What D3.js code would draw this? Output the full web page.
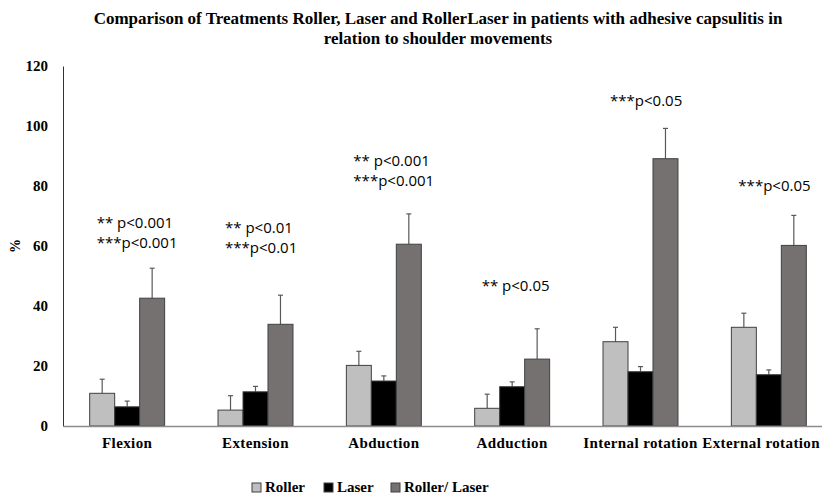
<!DOCTYPE html>
<html>
<head>
<meta charset="utf-8">
<script src="https://cdn.jsdelivr.net/npm/d3@7.9.0/dist/d3.min.js"></script>
<style>
  body { margin: 0; background: #fff; }
  svg { display: block; }
  .serif { font-family: "Liberation Serif", "DejaVu Serif", "Times New Roman", Times, serif; font-weight: 700; }
  .note { font-family: "Open Sans", sans-serif; }
</style>
</head>
<body>
<div id="chart"></div>
<script>
// data
const movements = ['Flexion', 'Extension', 'Abduction', 'Adduction', 'Internal rotation', 'External rotation'];
const treatments = ['Roller', 'Laser', 'Roller/ Laser'];

const roller      = [10.9, 5.3, 20.2, 5.9, 28.1, 32.9];
const laser       = [6.4, 11.4, 15.0, 13.1, 18.1, 17.1];
const rollerLaser = [42.6, 33.9, 60.6, 22.3, 89.1, 60.2];

const rollerErr      = [4.7, 4.8, 4.7, 4.7, 4.8, 4.7];
const laserErr       = [1.9, 1.8, 1.7, 1.6, 1.7, 1.6];
const rollerLaserErr = [10.0, 9.7, 10.1, 10.1, 10.1, 10.0];

const yTicks = [0, 20, 40, 60, 80, 100, 120];

// p-value notes above each group
const notes = [
    ['** p<0.001', '***p<0.001'],
    ['** p<0.01', '***p<0.01'],
    ['** p<0.001', '***p<0.001'],
    ['** p<0.05'],
    ['***p<0.05'],
    ['***p<0.05']
];
const noteTop = [224, 229, 162, 287, 102, 187]; // approx y of first line (px)

const width = 822;
const height = 496;
const margin = { top: 66, right: -11, bottom: 70, left: 63 };

const colors = ['#bfbfbf', '#000000', '#767171'];

const rows = movements.map((m, i) => ({
    movement: m,
    values: [roller[i], laser[i], rollerLaser[i]],
    errs: [rollerErr[i], laserErr[i], rollerLaserErr[i]]
}));

const svg = d3.select('#chart')
    .append('svg')
    .attr('width', width)
    .attr('height', height);

const x0 = d3.scaleBand()
    .domain(movements)
    .range([margin.left, width - margin.right]);

const groupW = x0.bandwidth() * 0.584;
const x1 = d3.scaleBand()
    .domain(treatments)
    .range([0, groupW]);

const y = d3.scaleLinear()
    .domain([0, 120])
    .range([height - margin.bottom, margin.top]);

// title
svg.append('text')
    .attr('class', 'serif')
    .attr('x', 438)
    .attr('y', 24)
    .attr('text-anchor', 'middle')
    .style('font-size', '17px')
    .selectAll('tspan')
    .data(['Comparison of Treatments Roller, Laser and RollerLaser in patients with adhesive capsulitis in',
           'relation to shoulder movements'])
    .enter()
    .append('tspan')
    .attr('x', 438)
    .attr('dy', (d, i) => i === 0 ? 0 : 20)
    .text(d => d);

// y axis (no ticks, bold labels)
const yAxis = svg.append('g')
    .attr('transform', `translate(${margin.left}, 0)`)
    .call(d3.axisLeft(y).tickValues(yTicks).tickSize(0).tickPadding(15));

yAxis.attr('font-family', null);
yAxis.select('.domain').attr('stroke', '#333').attr('stroke-width', 1);
yAxis.selectAll('text')
    .attr('class', 'serif')
    .style('font-size', '15px')
    .attr('fill', '#000');

svg.append('text')
    .attr('class', 'serif')
    .attr('transform', `translate(20, ${y(60)}) rotate(-90)`)
    .attr('text-anchor', 'middle')
    .style('font-size', '14px')
    .text('%');

// bars
const groups = svg.append('g')
    .selectAll('g')
    .data(rows)
    .enter()
    .append('g')
    .attr('transform', d => `translate(${x0(d.movement) + (x0.bandwidth() - groupW) / 2}, 0)`);

const bars = groups.selectAll('.bar')
    .data(d => d.values.map((v, i) => ({ t: treatments[i], v, e: d.errs[i], i })))
    .enter();

// error bars (upward only)
bars.append('line')
    .attr('x1', d => x1(d.t) + x1.bandwidth() / 2)
    .attr('x2', d => x1(d.t) + x1.bandwidth() / 2)
    .attr('y1', d => y(d.v))
    .attr('y2', d => y(d.v + d.e))
    .attr('stroke', '#595959')
    .attr('stroke-width', 1.2);

bars.append('line')
    .attr('x1', d => x1(d.t) + x1.bandwidth() / 2 - 2.5)
    .attr('x2', d => x1(d.t) + x1.bandwidth() / 2 + 2.5)
    .attr('y1', d => y(d.v + d.e))
    .attr('y2', d => y(d.v + d.e))
    .attr('stroke', '#595959')
    .attr('stroke-width', 1.2);

bars.append('rect')
    .attr('x', d => x1(d.t))
    .attr('y', d => y(d.v))
    .attr('width', x1.bandwidth())
    .attr('height', d => y(0) - y(d.v))
    .attr('fill', d => colors[d.i])
    .attr('stroke', '#404040')
    .attr('stroke-width', 1);

// x axis
const xAxis = svg.append('g')
    .attr('transform', `translate(0, ${y(0)})`)
    .call(d3.axisBottom(x0).tickSize(0).tickPadding(11));

xAxis.attr('font-family', null);
xAxis.select('.domain').attr('stroke', '#8c8c8c').attr('stroke-width', 1.5);
xAxis.selectAll('text')
    .attr('class', 'serif')
    .style('font-size', '15px')
    .style('letter-spacing', '0.4px')
    .attr('fill', '#000');

// keep the last label inside the window
xAxis.selectAll('.tick')
    .filter(d => d === 'External rotation')
    .select('text')
    .attr('text-anchor', 'end')
    .attr('x', (width - 2) - (x0('External rotation') + x0.bandwidth() / 2));

// p-value notes
notes.forEach((lines, i) => {
    const gx = x0(movements[i]) + (x0.bandwidth() - groupW) / 2;
    lines.forEach((txt, j) => {
        svg.append('text')
            .attr('class', 'note')
            .attr('x', gx + 7)
            .attr('y', noteTop[i] + j * 20)
            .style('font-size', '15px')
            .attr('dominant-baseline', 'middle')
            .attr('fill', '#000')
            .text(txt);
    });
});

// legend
const legendX = [252, 324, 391];
const legend = svg.append('g')
    .selectAll('g')
    .data(treatments)
    .enter()
    .append('g')
    .attr('transform', (d, i) => `translate(${legendX[i]}, 483)`);

legend.append('rect')
    .attr('width', 9)
    .attr('height', 9)
    .attr('fill', (d, i) => colors[i])
    .attr('stroke', '#404040')
    .attr('stroke-width', 1);

legend.append('text')
    .attr('class', 'serif')
    .attr('x', 13)
    .attr('y', 9)
    .style('font-size', '15px')
    .text(d => d);
</script>
</body>
</html>
